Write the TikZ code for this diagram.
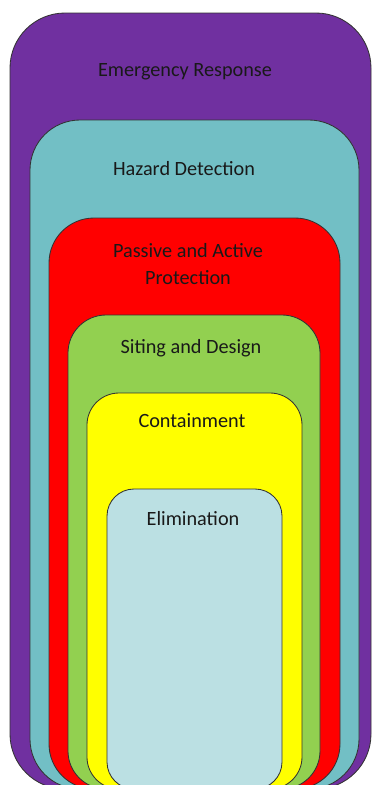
\documentclass[tikz,border=0pt]{standalone}
\usepackage{fontspec}
\setmainfont{Carlito}

\definecolor{respcol}{HTML}{7030A0}
\definecolor{detcol}{HTML}{72BFC5}
\definecolor{protcol}{HTML}{FF0000}
\definecolor{sitecol}{HTML}{92D050}
\definecolor{contcol}{HTML}{FFFF00}
\definecolor{elimcol}{HTML}{BBE0E3}

\begin{document}
\begin{tikzpicture}
[x=0.025cm, y=-0.025cm,
 layer/.style={draw=black!80, line width=0.6pt},
 lbl/.style={font={\fontsize{14.4}{19.2}\selectfont}, text=black!90, align=center, inner sep=0pt}]
\useasboundingbox (0,0) rectangle (372,785);
\clip (0,0) rectangle (372,785);

% layers, outermost first
\draw[layer, fill=respcol, rounded corners=1.375cm] (10,13) rectangle (371,789);
\draw[layer, fill=detcol,  rounded corners=1.25cm]  (30,120) rectangle (359,789);
\draw[layer, fill=protcol, rounded corners=1.125cm] (49,218) rectangle (340,789);
\draw[layer, fill=sitecol, rounded corners=0.95cm]  (68,315) rectangle (320,789);
\draw[layer, fill=contcol, rounded corners=0.8cm]   (87,393) rectangle (302,789);
\draw[layer, fill=elimcol, rounded corners=0.675cm] (107,489) rectangle (282,789);

% labels
\node (resp) at (185,72) [lbl] {Emergency Response};
\node (det) at (184,169) [lbl] {Hazard Detection};
\node (prot) at (188,264) [lbl] {Passive and Active\\Protection};
\node (site) at (191,348) [lbl] {Siting and Design};
\node (cont) at (192,421) [lbl] {Containment};
\node (elim) at (193,519) [lbl] {Elimination};
\end{tikzpicture}
\end{document}
